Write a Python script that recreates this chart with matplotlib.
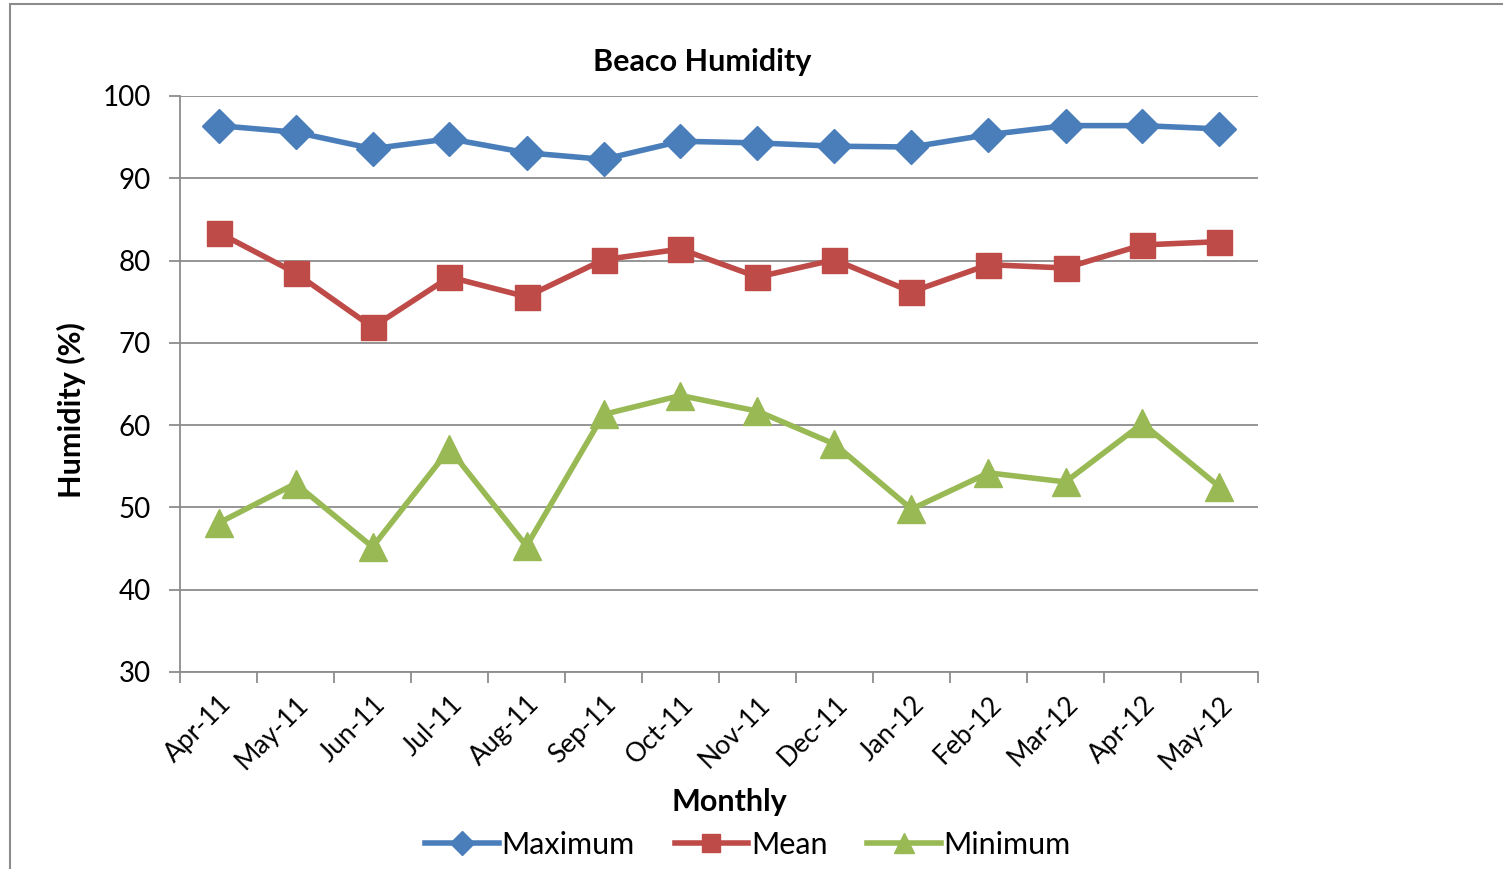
import matplotlib
matplotlib.use("Agg")
import matplotlib.pyplot as plt
from matplotlib.patches import Rectangle

months = ["Apr-11", "May-11", "Jun-11", "Jul-11", "Aug-11", "Sep-11", "Oct-11",
          "Nov-11", "Dec-11", "Jan-12", "Feb-12", "Mar-12", "Apr-12", "May-12"]
maximum = [96.4, 95.6, 93.6, 94.8, 93.1, 92.3, 94.5, 94.3, 93.9, 93.8, 95.3, 96.4, 96.4, 96.0]
mean = [83.4, 78.5, 71.9, 78.0, 75.6, 80.1, 81.4, 78.0, 80.1, 76.2, 79.5, 79.1, 81.9, 82.3]
minimum = [48.1, 52.9, 45.2, 57.1, 45.3, 61.3, 63.6, 61.7, 57.7, 49.8, 54.2, 53.1, 60.2, 52.5]

plt.rcParams['font.family'] = ['Lato', 'DejaVu Sans']

fig = plt.figure(figsize=(15.03, 8.69), dpi=100)
fig.patches.append(Rectangle((10/1503, -0.01), 1.2, 1 - 4/869 + 0.01, transform=fig.transFigure,
                             fill=False, edgecolor='#8c8c8c', linewidth=1.5))
ax = fig.add_axes([180/1503, 1 - 672/869, (1258-180)/1503, (672-96)/869])

x = list(range(len(months)))
ax.plot(x, maximum, color='#4A7EBB', lw=4, marker='D', ms=17, label='Maximum', zorder=3)
ax.plot(x, mean, color='#BE4B48', lw=4, marker='s', ms=18, label='Mean', zorder=3)
ax.plot(x, minimum, color='#98B954', lw=4, marker='^', ms=20, label='Minimum', zorder=3)

ax.set_xlim(-0.5, len(months) - 0.5)
ax.set_ylim(30, 100)
ax.set_yticks(range(30, 101, 10))
ax.grid(axis='y', color='#8c8c8c', lw=1.3)
ax.set_axisbelow(True)
for s in ['top', 'right']:
    ax.spines[s].set_visible(False)
for s in ['left', 'bottom']:
    ax.spines[s].set_color('#8c8c8c')
    ax.spines[s].set_linewidth(1.3)

ax.set_xticks([i - 0.5 for i in range(len(months) + 1)], minor=False)
ax.set_xticklabels([])
ax.set_xticks(x, minor=True)
ax.set_xticklabels(months, minor=True, rotation=45, ha='right', rotation_mode='anchor', fontsize=19)
ax.tick_params(axis='x', which='major', length=8, color='#8c8c8c', width=1.3, direction='out')
ax.tick_params(axis='x', which='minor', length=0, pad=14)
ax.tick_params(axis='y', length=8, color='#8c8c8c', width=1.3, labelsize=20, pad=13)

ax.set_title('Beaco Humidity', fontsize=22, fontweight='bold', pad=18, x=(702-180)/1078)
ax.set_ylabel('Humidity (%)', fontsize=22, fontweight='bold', labelpad=12, y=1 - (410-96)/576)
ax.set_xlabel('Monthly', fontsize=22, fontweight='bold', labelpad=10, x=(729-180)/1078)

fig.legend(loc='center', bbox_to_anchor=(748/1503, 1 - 845/869), ncol=3, frameon=False,
           fontsize=22, handlelength=2.4, handletextpad=0.1, columnspacing=1.3, markerscale=0.72)

fig.savefig('out.png', dpi=100)
